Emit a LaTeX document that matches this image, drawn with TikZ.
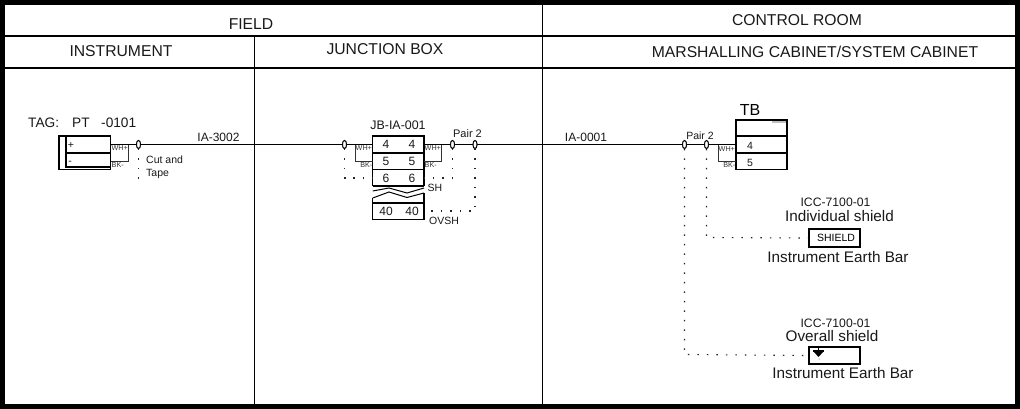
\documentclass[tikz,border=0pt]{standalone}
\usepackage{fontspec}
\setmainfont{Liberation Sans}
\usetikzlibrary{shapes.geometric}
\tikzset{
  frameline/.style={line width=2pt,black},
  divline/.style={line width=1pt,black},
  boxline/.style={line width=1.5pt,black,fill=none},
  wire/.style={line width=1pt,black},
  thin wire/.style={line width=0.8pt,black!80},
  dotwire/.style={line width=1.1pt,black!85,dash pattern=on 1.5pt off 8pt},
  oval/.style={draw=black,line width=0.9pt,ellipse,minimum width=4pt,minimum height=8pt,inner sep=0pt,fill=white},
  head/.style={font=\fontsize{15.7}{17}\selectfont,inner sep=0pt,text=black!90},
  mid/.style={font=\fontsize{15.3}{17}\selectfont,inner sep=0pt,text=black!90},
  lab/.style={font=\fontsize{12}{14}\selectfont,inner sep=0pt,text=black!90},
  small/.style={font=\fontsize{10.5}{12}\selectfont,inner sep=0pt,text=black!90},
  tiny/.style={font=\fontsize{7.2}{8}\selectfont,inner sep=0pt,text=black!80},
  tagtext/.style={font=\fontsize{13.7}{15}\selectfont,inner sep=0pt,anchor=west,text=black!90},
  icc/.style={font=\fontsize{12.2}{14}\selectfont,inner sep=0pt,text=black!90},
}
\begin{document}
\begin{tikzpicture}[x=1pt,y=-1pt]
\useasboundingbox (0,0) rectangle (1020,409);
% outer frame
\fill[white] (0,0) rectangle (1020,409);
\draw[black,line width=5pt] (2.5,2.5) rectangle (1017.5,406);
% grid
\coordinate (hA) at (5,36); \coordinate (hB) at (1016,36);
\coordinate (iA) at (5,68); \coordinate (iB) at (1016,68);
\coordinate (vAt) at (254.5,36); \coordinate (vAb) at (254.5,404);
\coordinate (vBt) at (542.5,5); \coordinate (vBb) at (542.5,404);
\draw[frameline] (hA)--(hB);
\draw[frameline] (iA)--(iB);
\draw[divline] (vAt)--(vAb);
\draw[divline] (vBt)--(vBb);
% headers
\node[head] (tField) at (251,24) {FIELD};
\node[head] (tRoom) at (797,20) {CONTROL ROOM};
\node[head] (tInst) at (121,51.5) {INSTRUMENT};
\node[head] (tJb) at (385,49.5) {JUNCTION BOX};
\node[head] (tMar) at (815,52) {MARSHALLING CABINET/SYSTEM CABINET};
% instrument
\node[tagtext] (tTag) at (28,123) {TAG:};
\node[tagtext] (tPt) at (72,123) {PT};
\node[tagtext] (tNum) at (101,123) {-0101};
\draw[boxline] (59,136) rectangle (110.5,169.5);
\draw[boxline] (66,136) rectangle (110.5,167);
\draw[line width=1.8pt] (66,152.7)--(110.5,152.7);
\node[small] (tPlus) at (71,145) {+};
\node[small] (tMinus) at (70,162.5) {-};
\coordinate (iWa) at (110.5,144.5); \coordinate (iWb) at (128.5,144.5);
\coordinate (iWc) at (128.5,161.5); \coordinate (iWd) at (110.5,161.5);
\draw[thin wire] (iWb)--(iWc)--(iWd);
\node[tiny,anchor=west] (tWh1) at (111.5,148.5) {WH+};
\node[tiny,anchor=west] (tBk1) at (111.5,165) {BK-};
\node[oval] (o1) at (138.5,144.5) {};
\node[small,anchor=west] (tCut) at (146,160) {Cut and};
\node[small,anchor=west] (tTape) at (146,174) {Tape};
\node[lab] (tIa1) at (218.5,137) {IA-3002};
% JB box
\node[lab,font=\fontsize{12.4}{14}\selectfont] (tJbTag) at (398,125) {JB-IA-001};
\draw[boxline] (372.7,186)--(372.7,136)--(424,136)--(424,186);
\draw[line width=1.8pt] (372.7,152.7)--(424,152.7) (372.7,169.4)--(424,169.4);
\draw[line width=1.2pt] (372.7,186)--(424,186);
\draw[line width=1pt] (372.7,191)--(389,188)--(407,193)--(424,188);
\draw[line width=1pt] (372.7,198)--(389,192)--(407,197.5)--(424,193);
\draw[boxline] (372.7,198)--(372.7,203)--(424,203)--(424,193);
\draw[boxline] (372.7,203) rectangle (424,219.5);
\foreach \n/\y/\t in {a/144.5/4,b/161.5/5,c/178/6,d/211.5/40}{
  \node[lab] (j\n l) at (386,\y) {\t};
  \node[lab] (j\n r) at (412,\y) {\t};
}
\node[small] (tSh) at (435,188) {SH};
\node[small,anchor=west] (tOvsh) at (429,221) {OVSH};
\node[small,font=\fontsize{11}{13}\selectfont] (tP1) at (467.5,134) {Pair 2};
\coordinate (jLw) at (372.7,144.5);
\coordinate (jRw) at (424,144.5);
\node[oval] (o2) at (344.5,144.5) {};
\node[oval] (o3) at (452.5,144.5) {};
\node[oval] (o4) at (475,144.5) {};
\draw[thin wire] (355.5,144.5)--(355.5,161.5)--(372.7,161.5);
\draw[thin wire] (441.5,144.5)--(441.5,161.5)--(424,161.5);
\node[tiny,anchor=west] (tWh2) at (355.5,148.5) {WH+};
\node[tiny,anchor=east] (tBk2) at (372.5,165.5) {BK-};
\node[tiny,anchor=west] (tWh3) at (424.5,148.5) {WH+};
\node[tiny,anchor=west] (tBk3) at (424.5,165.5) {BK-};
\node[lab] (tIa2) at (586,137) {IA-0001};
\node[small] (tP2) at (700,136) {Pair 2};
% TB
\node[font=\fontsize{16}{18}\selectfont,inner sep=0pt] (tTb) at (750,110) {TB};
\fill[black!25] (772,120) rectangle (787,123);
\draw[boxline] (736,120) rectangle (787,169.5);
\draw[line width=1.8pt] (736,135.8)--(787,135.8) (736,152.7)--(787,152.7);
\node[small] (tb4) at (750,146) {4};
\node[small] (tb5) at (750,163) {5};
\coordinate (tbW) at (736,144.5);
\node[oval] (o5) at (684.5,144.5) {};
\node[oval] (o6) at (706.5,144.5) {};
\draw[thin wire] (718.5,144.5)--(718.5,161.5)--(736,161.5);
\node[tiny,anchor=west] (tWh4) at (718.5,149) {WH+};
\node[tiny,anchor=east] (tBk4) at (735.5,165.5) {BK-};
% main wires
\draw[wire] (iWa)--(o1.center)--(o2.center)--(jLw);
\draw[wire] (jRw)--(o3.center)--(o4.center)--(o5.center)--(o6.center)--(tbW);
\node[oval] at (o1) {}; \node[oval] at (o2) {}; \node[oval] at (o3) {};
\node[oval] at (o4) {}; \node[oval] at (o5) {}; \node[oval] at (o6) {};
% shield bars
\node[icc] (tIcc1) at (835.5,202) {ICC-7100-01};
\node[mid] (tInd) at (839.5,216) {Individual shield};
\node[draw=black,line width=1.2pt,minimum width=51pt,minimum height=18pt,inner sep=0pt,font=\fontsize{10.5}{12}\selectfont] (shield) at (834.5,238) {\hspace*{3pt}SHIELD};
\node[mid] (tEb1) at (838,257) {Instrument Earth Bar};
\node[icc] (tIcc2) at (835.5,323) {ICC-7100-01};
\node[mid] (tOv) at (832,336) {Overall shield};
\node[draw=black,line width=1.2pt,minimum width=51pt,minimum height=17pt,inner sep=0pt] (earth) at (834.5,355.5) {};
\node[mid] (tEb2) at (843,373) {Instrument Earth Bar};
% earth symbol
\draw[black,line width=1pt] (818.5,348)--(818.5,351);
\draw[black,line width=1.2pt] (813,351)--(824,351);
\fill[black] (814,352)--(823,352)--(818.5,357)--cycle;
\fill[black!70] (819,359) circle (0.5pt);
% dotted
\coordinate (d1) at (138.5,184);
\draw[dotwire] (o1.south)--(d1);
\coordinate (d2) at (344.5,178);
\coordinate (d2e) at (372.7,178);
\draw[dotwire] (o2.south)--(d2)--(d2e);
\coordinate (d3) at (452.5,178);
\coordinate (d3e) at (424,178);
\draw[dotwire] (o3.south)--(d3)--(d3e);
\coordinate (d4) at (475,211);
\coordinate (d4e) at (424,211);
\draw[dotwire] (o4.south)--(d4)--(d4e);
\coordinate (d5) at (684.5,354.5);
\draw[dotwire] (o5.south)--(d5)--(earth.west);
\coordinate (d6) at (706.5,237.5);
\draw[dotwire] (o6.south)--(d6)--(shield.west);
\end{tikzpicture}
\end{document}
